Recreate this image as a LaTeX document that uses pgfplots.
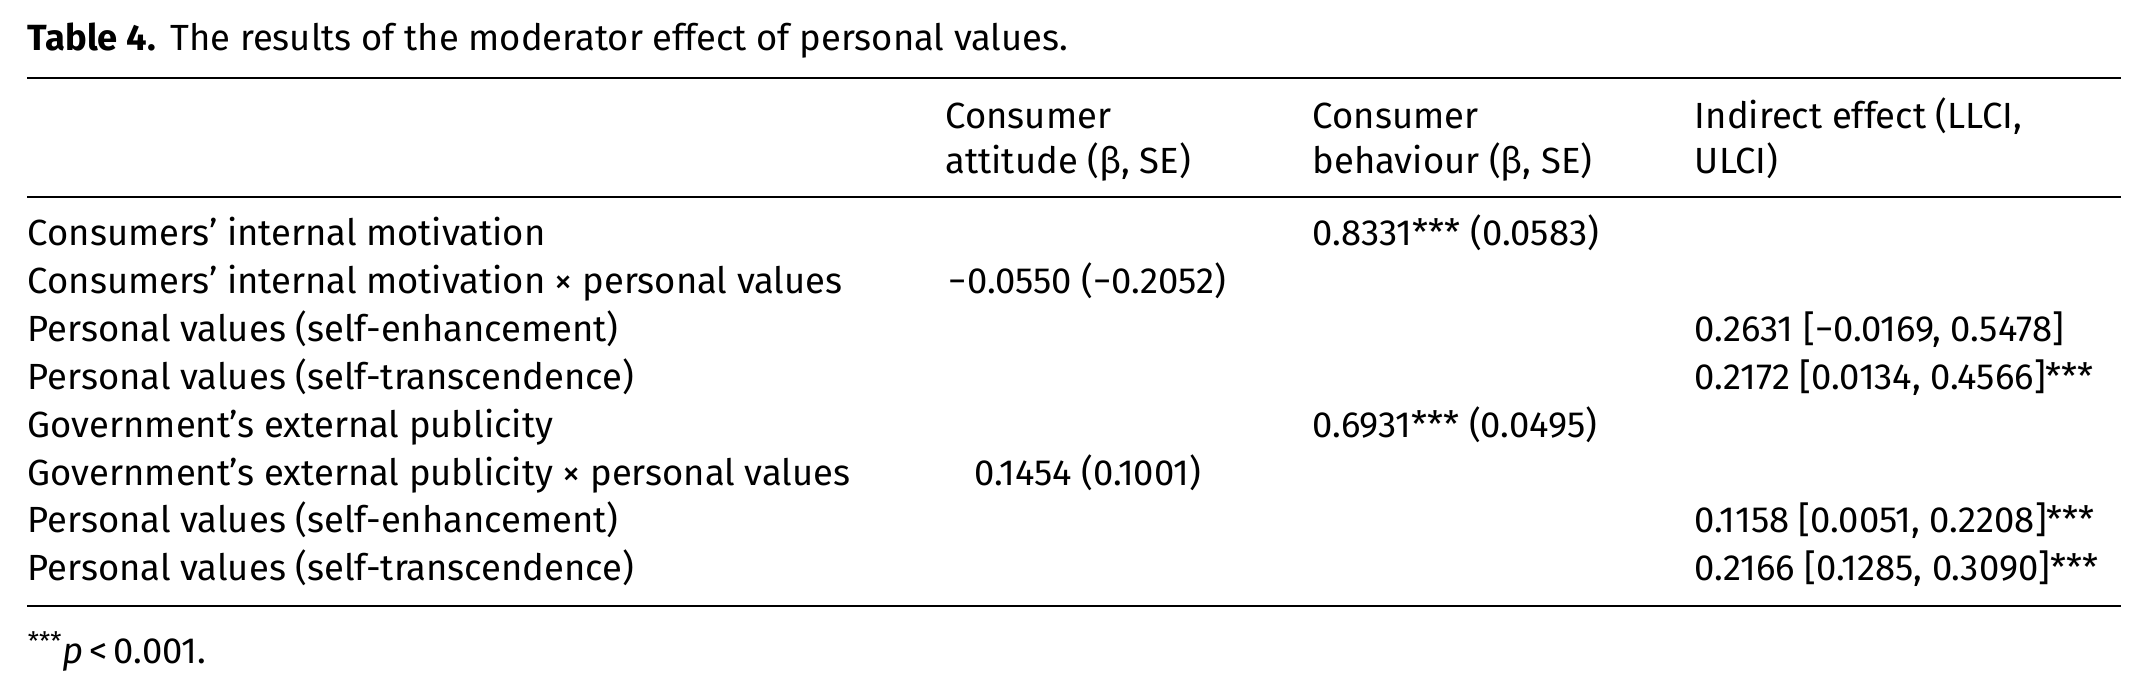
\documentclass[border=0pt]{standalone}
\usepackage{pgfplots}
\pgfplotsset{compat=1.18}
\usepackage{fontspec}
\setmainfont{Fira Sans}
\tikzset{cell/.style={anchor=base west, inner sep=0pt, font=\fontsize{18.2}{22}\selectfont},
         ccell/.style={anchor=base, inner sep=0pt, font=\fontsize{18.2}{22}\selectfont}}
\begin{document}
\begin{tikzpicture}
\begin{axis}[
  width=1074pt, height=348pt, scale only axis,
  xmin=0, xmax=1568, ymin=0, ymax=508, y dir=reverse,
  hide axis, clip=false,
]
\addplot[draw=none] coordinates {(0,0) (1568,508)};
% rules
\addplot[black, line width=1pt] coordinates {(20,57) (1548,57)};
\addplot[black, line width=1pt] coordinates {(20,144) (1548,144)};
\addplot[black, line width=1pt] coordinates {(20,442) (1548,442)};
% title
\node[cell] at (axis cs:20,37) {\textbf{Table 4.}\hspace{0.4em}The results of the moderator effect of personal values.};
% headers
\node[cell] at (axis cs:690,94) {Consumer};
\node[cell] at (axis cs:690,127) {attitude (β, SE)};
\node[cell] at (axis cs:958,94) {Consumer};
\node[cell] at (axis cs:958,127) {behaviour (β, SE)};
\node[cell] at (axis cs:1237,94) {Indirect effect (LLCI,};
\node[cell] at (axis cs:1237,127) {ULCI)};
% row labels
\node[cell] at (axis cs:20,179) {Consumers’ internal motivation};
\node[cell] at (axis cs:20,214) {Consumers’ internal motivation × personal values};
\node[cell] at (axis cs:20,249) {Personal values (self-enhancement)};
\node[cell] at (axis cs:20,284) {Personal values (self-transcendence)};
\node[cell] at (axis cs:20,319) {Government’s external publicity};
\node[cell] at (axis cs:20,354) {Government’s external publicity × personal values};
\node[cell] at (axis cs:20,389) {Personal values (self-enhancement)};
\node[cell] at (axis cs:20,424) {Personal values (self-transcendence)};
% column 2 (centered)
\node[ccell] at (axis cs:794,214) {−0.0550 (−0.2052)};
\node[ccell] at (axis cs:794,354) {0.1454 (0.1001)};
% column 3
\node[cell] at (axis cs:958,179) {0.8331*** (0.0583)};
\node[cell] at (axis cs:958,319) {0.6931*** (0.0495)};
% column 4
\node[cell] at (axis cs:1237,249) {0.2631 [−0.0169, 0.5478]};
\node[cell] at (axis cs:1237,284) {0.2172 [0.0134, 0.4566]***};
\node[cell] at (axis cs:1237,389) {0.1158 [0.0051, 0.2208]***};
\node[cell] at (axis cs:1237,424) {0.2166 [0.1285, 0.3090]***};
% footnote
\node[cell] at (axis cs:20,484) {\textsuperscript{***}\textit{p}\,<\,0.001.};
\end{axis}
\end{tikzpicture}
\end{document}
